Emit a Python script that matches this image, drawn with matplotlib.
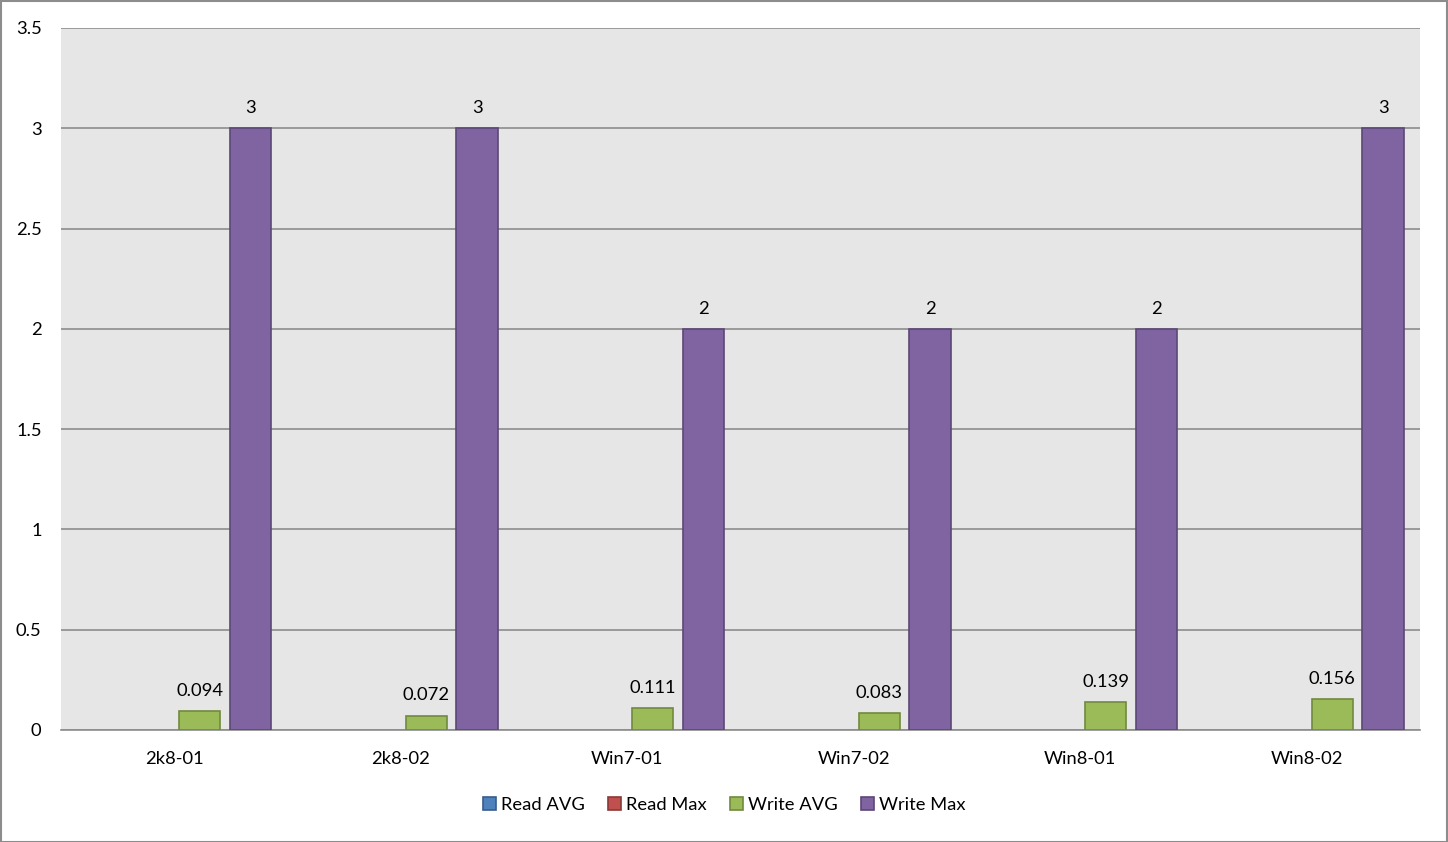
import numpy as np
import matplotlib.pyplot as plt
from matplotlib.patches import Rectangle, Patch

plt.rcParams['font.family'] = ['Lato', 'DejaVu Sans']

hosts = ['2k8-01', '2k8-02', 'Win7-01', 'Win7-02', 'Win8-01', 'Win8-02']
read_avg = [0, 0, 0, 0, 0, 0]
read_max = [0, 0, 0, 0, 0, 0]
write_avg = [0.094, 0.072, 0.111, 0.083, 0.139, 0.156]
write_max = [3, 3, 2, 2, 2, 3]

series = [
    ('Read AVG', read_avg, '#4f81bd', '#385d8a'),
    ('Read Max', read_max, '#c0504d', '#8c3836'),
    ('Write AVG', write_avg, '#9bbb59', '#71893f'),
    ('Write Max', write_max, '#8064a2', '#5c4776'),
]

fs = 13.2

fig = plt.figure(figsize=(14.48, 8.42), dpi=100)
ax = fig.add_axes([61 / 1448, 112 / 842, 1359 / 1448, 702 / 842])
ax.set_facecolor('#e6e6e6')

x = np.arange(len(hosts))
step = 0.225
width = 0.183
offsets = (np.arange(4) - 1.5) * step

for (name, vals, color, edge), off in zip(series, offsets):
    # zero-height bars get no outline so they stay invisible
    lw = [1.2 if v > 0 else 0 for v in vals]
    bars = ax.bar(x + off, vals, width, color=color, edgecolor=edge,
                  linewidth=lw, zorder=3)
    for b, v in zip(bars, vals):
        if v == 0:
            continue
        txt = f'{v:g}' if v >= 1 else f'{v:.3f}'
        ax.annotate(txt, (b.get_x() + b.get_width() / 2, v),
                    xytext=(0, 14.5), textcoords='offset points',
                    ha='center', va='center', fontsize=fs, color='black')

ax.set_xlim(-0.5, len(hosts) - 0.5)
ax.set_ylim(0, 3.5)
ax.set_yticks(np.arange(0, 3.51, 0.5))
ax.set_yticklabels(['0', '0.5', '1', '1.5', '2', '2.5', '3', '3.5'])
ax.set_xticks(x)
ax.set_xticklabels(hosts)
ax.tick_params(axis='both', length=0, labelsize=fs)
ax.tick_params(axis='y', pad=14)
ax.tick_params(axis='x', pad=15)
ax.grid(axis='y', color='#8c8c8c', linewidth=1.2, zorder=1)
for s in ['top', 'left', 'right']:
    ax.spines[s].set_visible(False)
ax.spines['bottom'].set_color('#8c8c8c')
ax.spines['bottom'].set_linewidth(1.2)

handles = [Patch(facecolor=c, edgecolor=e, linewidth=1.2, label=n)
           for n, _, c, e in series]
fig.legend(handles=handles, loc='center', bbox_to_anchor=(0.5, 37 / 842), ncol=4,
           frameon=False, fontsize=fs, handlelength=0.75,
           handleheight=0.75, handletextpad=0.25, columnspacing=1.25)

fig.patches.append(Rectangle((0.5 / 1448, 0.5 / 842), 1 - 1.5 / 1448, 1 - 1.5 / 842,
                             transform=fig.transFigure, fill=False,
                             edgecolor='#8c8c8c', linewidth=1.5))

fig.savefig('out.png', dpi=100)
